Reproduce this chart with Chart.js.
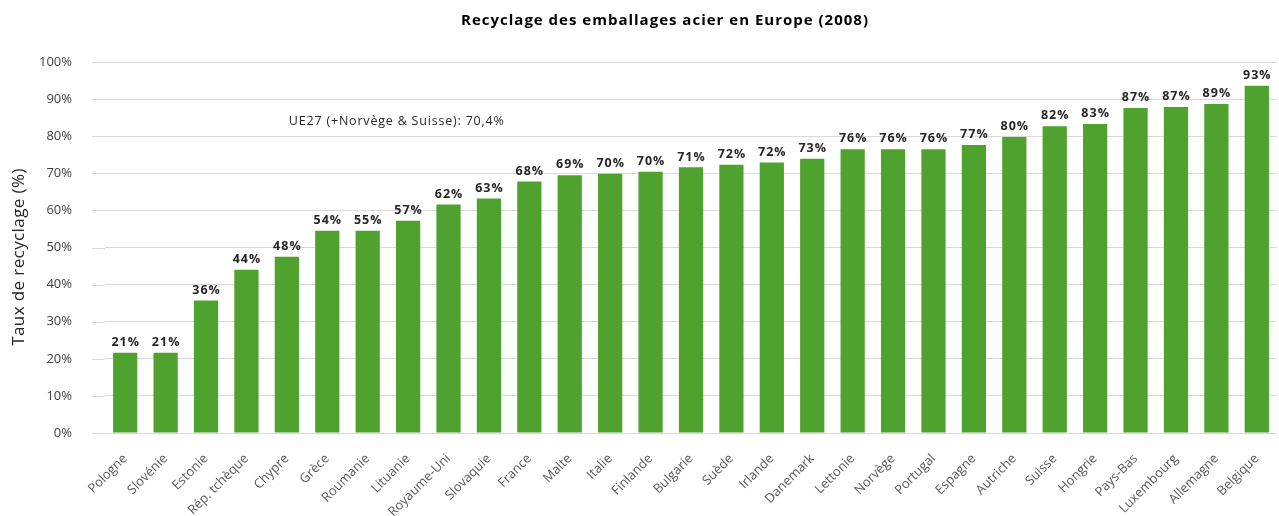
<!DOCTYPE html>
<html>
<head>
<meta charset="utf-8">
<script src="https://cdn.jsdelivr.net/npm/chart.js@4/dist/chart.umd.min.js"></script>
<style>
  html, body { margin: 0; padding: 0; background: #fff; }
  #wrap { width: 1279px; height: 516px; position: relative; }
</style>
</head>
<body>
<div id="wrap"><canvas id="chart"></canvas></div>
<script>
const TITRE = 'Recyclage des emballages acier en Europe (2008)';
const TITRE_Y = 'Taux de recyclage (%)';
const NOTE = 'UE27 (+Norvège & Suisse): 70,4%';

const pays = ['Pologne', 'Slovénie', 'Estonie', 'Rép. tchèque', 'Chypre', 'Grèce', 'Roumanie', 'Lituanie',
  'Royaume-Uni', 'Slovaquie', 'France', 'Malte', 'Italie', 'Finlande', 'Bulgarie', 'Suède', 'Irlande',
  'Danemark', 'Lettonie', 'Norvège', 'Portugal', 'Espagne', 'Autriche', 'Suisse', 'Hongrie', 'Pays-Bas',
  'Luxembourg', 'Allemagne', 'Belgique'];

// hauteur des barres
const taux = [21.6, 21.6, 35.7, 44.0, 47.5, 54.5, 54.5, 57.2, 61.6, 63.2, 67.8, 69.5, 69.9, 70.4, 71.6,
  72.3, 72.9, 73.9, 76.5, 76.5, 76.5, 77.6, 79.8, 82.7, 83.3, 87.6, 87.9, 88.7, 93.6];

// etiquettes affichees au-dessus des barres
const etiquettes = ['21%', '21%', '36%', '44%', '48%', '54%', '55%', '57%', '62%', '63%', '68%', '69%', '70%',
  '70%', '71%', '72%', '72%', '73%', '76%', '76%', '76%', '77%', '80%', '82%', '83%', '87%', '87%', '89%', '93%'];

const yTicks = [0, 10, 20, 30, 40, 50, 60, 70, 80, 90, 100];

const FONT = '"Open Sans", sans-serif';
const VERT = '#50a22e';
const GRILLE = '#d9d9d9';

const labelsPlugin = {
  id: 'labelsBarres',
  beforeDatasetsDraw(chart) {
    // la grille demarre un peu avant la premiere categorie
    const { ctx, chartArea, scales } = chart;
    ctx.save();
    ctx.strokeStyle = GRILLE;
    ctx.lineWidth = 1;
    yTicks.forEach(v => {
      const y = Math.round(scales.y.getPixelForValue(v)) + 0.5;
      ctx.beginPath();
      ctx.moveTo(chartArea.left - 13, y);
      ctx.lineTo(chartArea.left, y);
      ctx.stroke();
    });
    ctx.restore();
  },
  afterDatasetsDraw(chart) {
    const { ctx, scales } = chart;
    const meta = chart.getDatasetMeta(0);
    ctx.save();
    ctx.letterSpacing = '1px';
    ctx.font = 'bold 12.5px ' + FONT;
    ctx.fillStyle = '#262626';
    ctx.textAlign = 'center';
    ctx.textBaseline = 'bottom';
    meta.data.forEach((bar, i) => ctx.fillText(etiquettes[i], bar.x + 0.5, bar.y - 4));

    // note UE27
    ctx.letterSpacing = '0.8px';
    ctx.font = '12.5px ' + FONT;
    ctx.textAlign = 'left';
    ctx.textBaseline = 'middle';
    ctx.fillText(NOTE, scales.x.getPixelForValue(4) + 2, scales.y.getPixelForValue(84));

    // titre
    ctx.letterSpacing = '1px';
    ctx.font = 'bold 15px ' + FONT;
    ctx.textAlign = 'center';
    ctx.fillStyle = '#000';
    ctx.fillText(TITRE, 665, 21);

    // titre de l'axe y
    ctx.letterSpacing = '0.4px';
    ctx.font = '17px ' + FONT;
    ctx.fillStyle = '#262626';
    ctx.translate(19, 257);
    ctx.rotate(-Math.PI / 2);
    ctx.textBaseline = 'middle';
    ctx.fillText(TITRE_Y, 0, 0);
    ctx.restore();
  }
};

new Chart(document.getElementById('chart'), {
  type: 'bar',
  data: {
    labels: pays,
    datasets: [{ data: taux, backgroundColor: VERT, barPercentage: 0.6, categoryPercentage: 1 }]
  },
  options: {
    responsive: true,
    maintainAspectRatio: false,
    animation: false,
    layout: { padding: { top: 62, right: 2, left: 0, bottom: 0 } },
    plugins: { legend: { display: false }, tooltip: { enabled: false }, title: { display: false } },
    scales: {
      x: {
        grid: { display: false },
        border: { display: false },
        ticks: {
          color: '#595959',
          font: { family: FONT, size: 13 },
          minRotation: 45,
          maxRotation: 45,
          autoSkip: false,
          padding: 10
        },
        afterFit(scale) { scale.height = 83; }
      },
      y: {
        min: 0,
        max: 100,
        afterBuildTicks(scale) { scale.ticks = yTicks.map(v => ({ value: v })); },
        grid: { color: GRILLE, drawTicks: false },
        border: { display: false },
        ticks: {
          color: '#404040',
          font: { family: FONT, size: 13 },
          padding: 33,
          callback: v => v + '%'
        },
        afterFit(scale) { scale.width = 105; }
      }
    }
  },
  plugins: [labelsPlugin]
});
</script>
</body>
</html>
